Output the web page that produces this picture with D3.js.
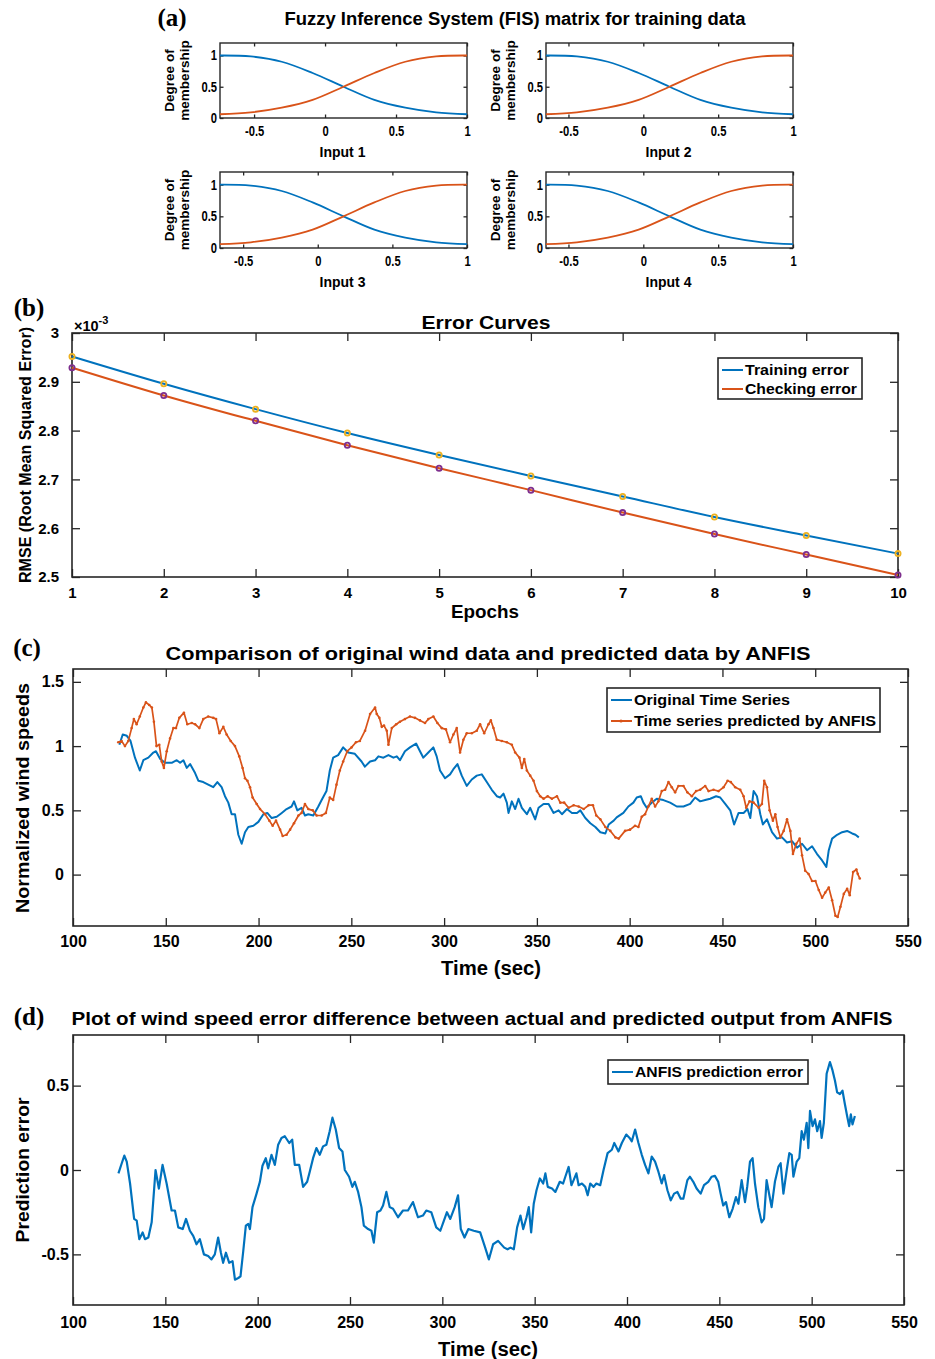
<!DOCTYPE html>
<html>
<head>
<meta charset="utf-8">
<script src="https://cdn.jsdelivr.net/npm/d3@7"></script>
<style>
  body { margin: 0; background: #fff; }
  svg { display: block; }
  text { font-family: "Liberation Sans", Arial, Helvetica, sans-serif; font-weight: bold; fill: #000; }
</style>
</head>
<body>
<svg id="fig" width="935" height="1359"></svg>
<script>
// ---------- data ----------
// (a) membership functions, sampled at 9 evenly spaced points across each input range
const inputNames = ['Input 1', 'Input 2', 'Input 3', 'Input 4'];
const inputMin = [-0.74, -0.65, -0.655, -0.65];
const inputMax = [1, 1, 1, 1];
const mfLow = [1.0, 0.985, 0.9, 0.72, 0.5, 0.29, 0.165, 0.09, 0.06];
const mfHigh = [0.06, 0.09, 0.165, 0.29, 0.5, 0.72, 0.9, 0.985, 1.0];
const mfTicksX = [-0.5, 0, 0.5, 1];
const mfTicksY = [0, 0.5, 1];

// (b) error curves
const epochs = [1, 2, 3, 4, 5, 6, 7, 8, 9, 10];
const trainingError = [2.952e-3, 2.896e-3, 2.844e-3, 2.795e-3, 2.750e-3, 2.707e-3, 2.665e-3, 2.623e-3, 2.585e-3, 2.548e-3];
const checkingError = [2.929e-3, 2.872e-3, 2.820e-3, 2.770e-3, 2.723e-3, 2.678e-3, 2.632e-3, 2.588e-3, 2.546e-3, 2.504e-3];
const rmseTicks = [2.5e-3, 2.6e-3, 2.7e-3, 2.8e-3, 2.9e-3, 3e-3];

// (c) original vs predicted wind speed [time, value]
const originalSeries = [[125,1.01],[126.8,1.09],[129,1.08],[131,1.04],[133.4,0.91],[136,0.81],[137.9,0.89],[140.6,0.91],[143.3,0.95],[144.7,0.96],[147,0.90],[149.6,0.87],[153.2,0.87],[155.9,0.89],[157.7,0.87],[159.5,0.89],[161.3,0.83],[163.1,0.86],[165.8,0.79],[167.6,0.73],[170.2,0.72],[172.9,0.70],[175.6,0.68],[177.8,0.72],[180.1,0.68],[181.9,0.61],[183.7,0.56],[185.5,0.47],[187.3,0.47],[189.1,0.31],[190.9,0.24],[192.7,0.33],[194.5,0.37],[197.2,0.38],[199.9,0.41],[202.6,0.47],[204.7,0.48],[207.1,0.44],[209.8,0.45],[212.5,0.48],[215.1,0.51],[217.8,0.53],[219.1,0.57],[220.9,0.50],[223.2,0.52],[225,0.46],[226.8,0.47],[229.5,0.46],[232.2,0.53],[234,0.58],[236.6,0.65],[238.4,0.81],[240.2,0.91],[242.9,0.93],[245.6,0.99],[248.3,0.95],[251.9,0.94],[255.5,0.88],[257.3,0.84],[260.1,0.88],[262.8,0.89],[264.6,0.92],[267.3,0.91],[270,0.93],[272.7,0.91],[274.5,0.92],[276.2,0.89],[278.9,0.96],[281.6,0.99],[284.9,1.02],[287,0.96],[288.8,0.91],[291.5,0.95],[294.2,0.99],[296,0.92],[297.8,0.81],[300.5,0.75],[303.2,0.78],[305,0.82],[307.2,0.86],[309.5,0.77],[312.2,0.69],[314.9,0.74],[317.6,0.77],[320.3,0.78],[323,0.72],[325.7,0.66],[328.4,0.61],[330.2,0.60],[332,0.63],[333.8,0.56],[334.7,0.48],[336.5,0.57],[338.3,0.51],[340.1,0.59],[341.9,0.52],[344.6,0.47],[346.4,0.52],[349.1,0.43],[350.9,0.52],[353.6,0.55],[356.3,0.55],[359,0.48],[361.7,0.50],[363.5,0.47],[366.2,0.51],[368.9,0.48],[371.6,0.48],[373.4,0.50],[376.1,0.44],[378.8,0.40],[381.5,0.37],[384.2,0.33],[386.9,0.32],[388.7,0.39],[391.4,0.42],[393,0.445],[396.6,0.48],[399.3,0.53],[402,0.56],[403.8,0.60],[406,0.61],[407.4,0.56],[409.2,0.52],[411.9,0.56],[414.6,0.59],[418.2,0.58],[421.8,0.56],[425.4,0.53],[429,0.53],[432.6,0.55],[435.3,0.60],[438,0.57],[440.7,0.58],[443.4,0.59],[446.6,0.61],[448.8,0.60],[451.5,0.55],[454.2,0.50],[456.3,0.39],[458.7,0.48],[461.4,0.48],[463.5,0.51],[465,0.44],[466.8,0.65],[468.6,0.61],[470.4,0.47],[471.8,0.39],[474,0.43],[476.7,0.33],[479.4,0.28],[482.1,0.29],[484.8,0.25],[487.5,0.26],[490.2,0.21],[492.9,0.24],[495.6,0.19],[498.3,0.22],[501,0.16],[503.7,0.11],[506,0.06],[507.3,0.19],[509.1,0.28],[511.8,0.31],[514.5,0.33],[517.2,0.34],[519.9,0.32],[521.7,0.31],[523.5,0.29]];
const predictedSeries = [[124.4,1.03],[126.2,1.04],[128,1.00],[129.8,1.04],[131.6,1.14],[132.8,1.21],[134.3,1.17],[136,1.23],[137.9,1.30],[139.3,1.34],[141.1,1.32],[142.5,1.30],[143.6,1.19],[145,1.00],[146.5,1.01],[147.8,0.88],[149,0.83],[150.5,0.96],[152.3,1.06],[154.1,1.14],[155.5,1.14],[157.3,1.22],[159.8,1.26],[161.6,1.17],[164,1.18],[165.8,1.17],[168.1,1.14],[170.2,1.21],[172.9,1.23],[175.6,1.22],[177.1,1.21],[178.9,1.10],[181,1.15],[182.8,1.09],[185,1.04],[187.3,1.00],[189.6,0.92],[191.4,0.83],[192.7,0.75],[194,0.73],[195.4,0.68],[196.8,0.60],[199,0.55],[200.8,0.51],[203.5,0.47],[205.8,0.42],[207.6,0.38],[209.4,0.42],[211.6,0.35],[213,0.30],[215.1,0.31],[217,0.35],[219.1,0.40],[221.5,0.46],[223.2,0.48],[225,0.55],[226.8,0.51],[229.2,0.50],[231.3,0.46],[234,0.46],[236.3,0.48],[238.4,0.60],[240.2,0.58],[242,0.70],[243.8,0.81],[245.6,0.88],[247.8,0.96],[250.1,0.99],[252.5,1.03],[254.6,1.04],[257.4,1.12],[260.1,1.25],[262.8,1.30],[263.7,1.25],[265.1,1.22],[266.4,1.15],[267.6,1.16],[269.1,1.12],[270,1.01],[271.8,1.14],[274.2,1.17],[276.2,1.19],[278.9,1.21],[281.6,1.23],[284.3,1.22],[287,1.20],[289.7,1.18],[291.5,1.21],[294.2,1.23],[296.4,1.18],[298.7,1.14],[301,1.13],[303.2,1.03],[305,1.09],[306.8,1.14],[308.6,0.95],[310.4,1.05],[312.2,1.10],[314.9,1.10],[317.6,1.12],[319.4,1.17],[321.6,1.10],[323.9,1.17],[325.2,1.20],[326.6,1.14],[328.4,1.05],[331.1,1.04],[333.8,1.03],[336.5,1.01],[338.3,0.95],[340.6,0.91],[341.9,0.83],[343.2,0.90],[344.6,0.81],[346.4,0.77],[348.2,0.73],[350,0.65],[351.8,0.61],[353.6,0.59],[355.8,0.61],[358.1,0.59],[360.8,0.61],[362.6,0.56],[364.7,0.56],[367.1,0.52],[369.8,0.54],[372.5,0.53],[375.2,0.51],[377.9,0.54],[380.2,0.54],[382,0.46],[384.2,0.43],[386.9,0.37],[389.6,0.34],[392.3,0.29],[394.1,0.28],[397.5,0.34],[400.2,0.35],[402.9,0.38],[404.7,0.37],[406.5,0.45],[408.3,0.47],[410.1,0.53],[411.9,0.59],[413.7,0.53],[415.5,0.57],[417.3,0.65],[419.1,0.66],[420.9,0.72],[422.7,0.68],[424.5,0.64],[426.3,0.69],[429,0.69],[431.1,0.64],[433.5,0.61],[435.8,0.65],[438,0.66],[440.7,0.69],[442.5,0.65],[445.2,0.66],[447.9,0.65],[450.6,0.68],[452.8,0.73],[454.5,0.72],[456.9,0.68],[459.6,0.66],[461.4,0.61],[462.8,0.52],[464.6,0.57],[466.8,0.56],[469.5,0.52],[471.3,0.55],[472.5,0.73],[474,0.68],[475.4,0.50],[477.2,0.42],[478.5,0.47],[479.7,0.37],[481.2,0.29],[483,0.34],[484.8,0.43],[486.6,0.34],[488,0.16],[489.8,0.24],[491.6,0.28],[492.9,0.15],[494.6,0.03],[496.4,0.005],[498.3,-0.05],[500.1,-0.05],[501.9,-0.12],[503.7,-0.18],[505.4,-0.14],[507.3,-0.10],[509.1,-0.20],[510.9,-0.32],[512.1,-0.33],[513.6,-0.25],[515.4,-0.15],[517.2,-0.11],[518.6,-0.16],[520.4,0.02],[522.2,0.04],[522.9,0.006],[524,-0.03]];
const speedTicks = [0, 0.5, 1, 1.5];
const timeTicks = [100, 150, 200, 250, 300, 350, 400, 450, 500, 550];

// (d) prediction error [time, value]
const errorSeries = [[124.6,-0.02],[126.4,0.04],[127.8,0.085],[129.1,0.05],[130.9,-0.08],[133.1,-0.29],[134.5,-0.30],[135.9,-0.41],[137.7,-0.37],[139,-0.41],[140.8,-0.40],[142.6,-0.31],[144.7,0.00],[146.5,-0.11],[148.5,0.03],[150.7,-0.08],[153.4,-0.24],[155.2,-0.24],[157,-0.34],[159.4,-0.35],[161.2,-0.29],[163.3,-0.36],[165.1,-0.39],[166.9,-0.44],[168.7,-0.41],[170.9,-0.50],[173.2,-0.51],[175,-0.53],[176.8,-0.50],[178.6,-0.40],[180.1,-0.49],[181.3,-0.55],[182.8,-0.49],[184.6,-0.55],[186.4,-0.54],[187.7,-0.65],[189.5,-0.64],[190.7,-0.63],[192.2,-0.48],[193.6,-0.33],[194.9,-0.32],[195.8,-0.35],[197.2,-0.22],[199.4,-0.14],[201.2,-0.07],[202.6,0.025],[204.4,0.07],[205.7,0.01],[207.5,0.09],[209.3,0.03],[211.1,0.15],[212.9,0.19],[214.7,0.20],[217.1,0.16],[218.7,0.18],[220.1,0.03],[222.5,0.03],[224.6,-0.10],[226.8,-0.07],[228.2,-0.01],[230,0.07],[231.8,0.13],[233.6,0.09],[235.4,0.14],[237.2,0.15],[239,0.23],[240.5,0.31],[242.3,0.24],[244.1,0.13],[245.9,0.11],[247.2,0.00],[249.5,-0.04],[251.3,-0.10],[252.6,-0.07],[254.4,-0.13],[256.2,-0.22],[257.5,-0.33],[259.8,-0.35],[261.6,-0.36],[262.9,-0.43],[264.7,-0.25],[266.5,-0.24],[267.9,-0.21],[269.7,-0.13],[271.5,-0.22],[273.3,-0.23],[276,-0.28],[278.7,-0.24],[281.4,-0.24],[284.1,-0.19],[286.8,-0.28],[289.5,-0.27],[291.3,-0.24],[294,-0.25],[296.7,-0.34],[298.9,-0.36],[301.2,-0.29],[302.5,-0.25],[304.3,-0.29],[306.7,-0.22],[308.5,-0.15],[310,-0.35],[312,-0.40],[314.1,-0.35],[317,-0.36],[320.5,-0.37],[323.2,-0.46],[325.2,-0.53],[327.5,-0.44],[330.2,-0.42],[333.5,-0.46],[335.3,-0.47],[336.9,-0.46],[338.7,-0.47],[340.5,-0.34],[342.3,-0.27],[343.8,-0.35],[345.6,-0.28],[346.8,-0.22],[348.1,-0.37],[349.5,-0.20],[351,-0.12],[352.8,-0.05],[354.6,-0.08],[355.8,-0.02],[357.1,-0.10],[359.4,-0.11],[361.2,-0.13],[363.6,-0.07],[365.4,-0.08],[366.6,-0.04],[368.4,0.018],[369.9,-0.09],[371.1,-0.06],[372.6,-0.02],[373.8,-0.09],[375.6,-0.08],[377.4,-0.10],[378.7,-0.15],[380.1,-0.08],[381.9,-0.10],[383.4,-0.08],[385.5,-0.09],[387.3,0.00],[389.5,0.10],[391.8,0.12],[393.1,0.16],[395.4,0.11],[397.2,0.16],[399.6,0.21],[401.4,0.19],[402.6,0.17],[404.4,0.24],[406.2,0.16],[408,0.09],[409.8,0.03],[411.6,-0.02],[413.4,0.08],[415.2,0.05],[417,-0.01],[418.8,-0.08],[420.1,-0.03],[421.9,-0.12],[423.7,-0.18],[425.5,-0.14],[427.3,-0.13],[429.1,-0.17],[430.5,-0.17],[432.7,-0.06],[434.1,-0.04],[435.9,-0.07],[437.7,-0.11],[439.9,-0.14],[441.7,-0.09],[444,-0.07],[445.8,-0.04],[447.6,-0.035],[449.4,-0.07],[450.7,-0.14],[452.1,-0.21],[453.6,-0.19],[455.4,-0.28],[457.2,-0.23],[459,-0.16],[460.3,-0.20],[462.1,-0.06],[463.9,-0.19],[465.1,-0.10],[466.6,0.05],[468,0.07],[469.3,-0.08],[471.1,-0.22],[472.9,-0.31],[474.2,-0.29],[475.6,-0.06],[477.1,-0.15],[478.3,-0.22],[480.1,-0.07],[482,0.02],[483.2,0.04],[484.7,-0.14],[486.5,0.00],[487.9,0.10],[489.2,0.09],[490.1,-0.04],[491.9,0.05],[493.3,0.07],[494.6,0.23],[495.8,0.18],[497.3,0.28],[498.2,0.13],[499.1,0.35],[500.5,0.26],[501.8,0.30],[503,0.23],[504.5,0.29],[505.4,0.19],[506.6,0.28],[508.1,0.57],[509.9,0.64],[511.3,0.59],[512.6,0.53],[513.8,0.46],[515.3,0.45],[516.7,0.47],[518,0.39],[519.2,0.32],[520.3,0.26],[521.2,0.33],[522.1,0.27],[523.4,0.32]];
const errorTicks = [-0.5, 0, 0.5];

// ---------- styling ----------
const BLUE = '#0072BD', ORANGE = '#D95319', YELLOW = '#EDB120', PURPLE = '#7E2F8E', AXIS = '#262626';
const fmt = d => String(+d.toFixed(3));

const svg = d3.select('#fig');

function label(parent, x, y, s, size, o = {}) {
    const t = parent.append('text')
        .attr('x', x).attr('y', y)
        .attr('font-size', size)
        .attr('text-anchor', o.anchor || 'middle')
        .attr('dy', o.dy || '0.35em')
        .text(s);
    if (o.rotate) t.attr('transform', `rotate(-90,${x},${y})`);
    if (o.width) t.attr('textLength', o.width).attr('lengthAdjust', 'spacingAndGlyphs');
    if (o.family) t.style('font-family', o.family);
    return t;
}

// boxed MATLAB-style axes with inward ticks on all four sides
function frame(g, x, y, o) {
    const [x0, x1] = x.range(), [y0, y1] = y.range();
    const tidy = s => {
        s.attr('font-family', null).attr('font-size', null);
        s.select('.domain').remove();
        s.selectAll('line').attr('stroke', AXIS).attr('stroke-width', o.tickWidth || 1.3);
        s.selectAll('text').attr('font-size', o.font).attr('fill', '#000');
    };
    g.append('g').attr('transform', `translate(0,${y0})`)
        .call(d3.axisBottom(x).tickValues(o.xTicks).tickFormat(o.xFmt || fmt).tickSize(-o.tick).tickPadding(o.xPad))
        .call(tidy);
    g.append('g').attr('transform', `translate(0,${y1})`)
        .call(d3.axisTop(x).tickValues(o.xTicks).tickFormat('').tickSize(-o.tick))
        .call(tidy);
    g.append('g').attr('transform', `translate(${x0},0)`)
        .call(d3.axisLeft(y).tickValues(o.yTicks).tickFormat(o.yFmt || fmt).tickSize(-o.tick).tickPadding(o.yPad))
        .call(tidy);
    g.append('g').attr('transform', `translate(${x1},0)`)
        .call(d3.axisRight(y).tickValues(o.yTicks).tickFormat('').tickSize(-o.tick))
        .call(tidy);
    g.append('rect')
        .attr('x', x0).attr('y', y1)
        .attr('width', x1 - x0).attr('height', y0 - y1)
        .attr('fill', 'none').attr('stroke', AXIS).attr('stroke-width', o.boxWidth || 1.6);
}

function legend(g, x, y, w, rows, o) {
    g.append('rect').attr('x', x).attr('y', y).attr('width', w).attr('height', o.h)
        .attr('fill', '#fff').attr('stroke', AXIS).attr('stroke-width', 1.6);
    rows.forEach((r, i) => {
        const cy = y + o.first + i * o.step;
        g.append('line').attr('x1', x + 4).attr('x2', x + 25).attr('y1', cy).attr('y2', cy)
            .attr('stroke', r.color).attr('stroke-width', 2);
        if (r.dot) g.append('circle').attr('cx', x + 14).attr('cy', cy).attr('r', 1.6).attr('fill', r.color);
        label(g, x + 27, cy, r.text, o.font, { anchor: 'start', width: r.width });
    });
}

const tag = (x, y, s) => label(svg, x, y, s, 25, { family: '"Liberation Serif", "Times New Roman", serif', dy: '0.33em' });

// ---------- (a) FIS membership functions ----------
tag(172, 18, '(a)');
label(svg, 515, 19, 'Fuzzy Inference System (FIS) matrix for training data', 18, { width: 461 });

const fisBoxes = [
    { x0: 220, x1: 467, y0: 118, y1: 43 },
    { x0: 546, x1: 793, y0: 118, y1: 43 },
    { x0: 220, x1: 467, y0: 248, y1: 172 },
    { x0: 546, x1: 793, y0: 248, y1: 172 }
];

inputNames.forEach((name, k) => {
    const b = fisBoxes[k];
    const g = svg.append('g');
    const x = d3.scaleLinear().domain([inputMin[k], inputMax[k]]).range([b.x0, b.x1]);
    const y = d3.scaleLinear().domain([0, 1.2]).range([b.y0, b.y1]);
    const grid = mfLow.map((_, i) => inputMin[k] + i * (inputMax[k] - inputMin[k]) / (mfLow.length - 1));
    frame(g, x, y, { xTicks: mfTicksX, yTicks: mfTicksY, tick: 3.5, font: 14, xPad: 8, yPad: 3, boxWidth: 1.4 });
    g.selectAll('.tick text').each(function () {
        this.setAttribute('textLength', this.getComputedTextLength() * 0.8);
        this.setAttribute('lengthAdjust', 'spacingAndGlyphs');
    });
    const line = d3.line().x((d, i) => x(grid[i])).y(d => y(d)).curve(d3.curveCatmullRom.alpha(0.5));
    g.append('path').datum(mfLow).attr('d', line).attr('fill', 'none').attr('stroke', BLUE).attr('stroke-width', 1.8);
    g.append('path').datum(mfHigh).attr('d', line).attr('fill', 'none').attr('stroke', ORANGE).attr('stroke-width', 1.8);
    const cy = (b.y0 + b.y1) / 2;
    label(g, b.x0 - 51, cy, 'Degree of', 13.5, { rotate: true });
    label(g, b.x0 - 36, cy, 'membership', 13.5, { rotate: true });
    label(g, (b.x0 + b.x1) / 2 - 1, b.y0 + 34, name, 14);
});

// ---------- (b) error curves ----------
{
    tag(29, 308, '(b)');
    const g = svg.append('g');
    const x = d3.scaleLinear().domain([1, 10]).range([72, 898]);
    const y = d3.scaleLinear().domain([2.5e-3, 3e-3]).range([577, 333]);
    frame(g, x, y, {
        xTicks: epochs, yTicks: rmseTicks, tick: 8, font: 15, xPad: 10, yPad: 13,
        xFmt: d => String(d), yFmt: d => String(+(d * 1e3).toFixed(2))
    });
    label(g, 486, 323, 'Error Curves', 18, { width: 129 });
    label(g, 485, 612, 'Epochs', 18, { width: 68 });
    label(g, 25, 455, 'RMSE (Root Mean Squared Error)', 16, { rotate: true, width: 256 });
    const mult = g.append('text').attr('x', 74).attr('y', 331).attr('font-size', 14.5).attr('font-weight', 'normal');
    mult.append('tspan').text('\u00d710');
    mult.append('tspan').attr('dy', -7).attr('font-size', 11).text('-3');

    const series = [
        { values: trainingError, color: BLUE, marker: YELLOW },
        { values: checkingError, color: ORANGE, marker: PURPLE }
    ];
    const line = d3.line().x((d, i) => x(epochs[i])).y(d => y(d)).curve(d3.curveMonotoneX);
    series.forEach(s => {
        g.append('path').datum(s.values).attr('d', line).attr('fill', 'none').attr('stroke', s.color).attr('stroke-width', 2);
    });
    series.forEach(s => {
        g.selectAll(null).data(s.values).enter().append('circle')
            .attr('cx', (d, i) => x(epochs[i])).attr('cy', d => y(d)).attr('r', 2.6)
            .attr('fill', 'none').attr('stroke', s.marker).attr('stroke-width', 1.8);
    });
    legend(g, 718, 358, 144, [
        { color: BLUE, text: 'Training error', width: 104 },
        { color: ORANGE, text: 'Checking error', width: 112 }
    ], { h: 41, first: 12, step: 19, font: 14.5 });
}

// ---------- (c) original vs predicted ----------
{
    tag(27, 648, '(c)');
    const g = svg.append('g');
    const x = d3.scaleLinear().domain([100, 550]).range([73, 908]);
    const y = d3.scaleLinear().domain([-0.4, 1.6]).range([926, 669]);
    frame(g, x, y, { xTicks: timeTicks, yTicks: speedTicks, tick: 8, font: 16, xPad: 10, yPad: 9 });
    label(g, 488, 653, 'Comparison of original wind data and predicted data by ANFIS', 19, { width: 645 });
    label(g, 491, 968, 'Time (sec)', 19.5, { width: 100 });
    label(g, 22, 798, 'Normalized wind speeds', 19, { rotate: true, width: 230 });
    const line = d3.line().x(d => x(d[0])).y(d => y(d[1]));
    g.append('path').datum(originalSeries).attr('d', line).attr('fill', 'none')
        .attr('stroke', BLUE).attr('stroke-width', 2).attr('stroke-linejoin', 'round');
    g.append('path').datum(predictedSeries).attr('d', line).attr('fill', 'none')
        .attr('stroke', ORANGE).attr('stroke-width', 1.7).attr('stroke-linejoin', 'round');
    g.selectAll(null).data(predictedSeries).enter().append('circle')
        .attr('cx', d => x(d[0])).attr('cy', d => y(d[1])).attr('r', 1.3).attr('fill', ORANGE);
    legend(g, 607, 688, 273, [
        { color: BLUE, text: 'Original Time Series', width: 156 },
        { color: ORANGE, text: 'Time series predicted by ANFIS', width: 242, dot: true }
    ], { h: 44, first: 12, step: 21, font: 15 });
}

// ---------- (d) prediction error ----------
{
    tag(29, 1017, '(d)');
    const g = svg.append('g');
    const x = d3.scaleLinear().domain([100, 550]).range([73, 904]);
    const y = d3.scaleLinear().domain([-0.8, 0.8]).range([1305, 1035]);
    frame(g, x, y, { xTicks: timeTicks, yTicks: errorTicks, tick: 8, font: 16, xPad: 12, yPad: 4 });
    label(g, 482, 1018, 'Plot of wind speed error difference between actual and predicted output from ANFIS', 19, { width: 821 });
    label(g, 488, 1349, 'Time (sec)', 19.5, { width: 100 });
    label(g, 22, 1170, 'Prediction error', 19, { rotate: true, width: 145 });
    const line = d3.line().x(d => x(d[0])).y(d => y(d[1]));
    g.append('path').datum(errorSeries).attr('d', line).attr('fill', 'none')
        .attr('stroke', BLUE).attr('stroke-width', 2.2).attr('stroke-linejoin', 'round');
    legend(g, 608, 1060, 200, [
        { color: BLUE, text: 'ANFIS prediction error', width: 168 }
    ], { h: 24, first: 12, step: 0, font: 15 });
}
</script>
</body>
</html>
